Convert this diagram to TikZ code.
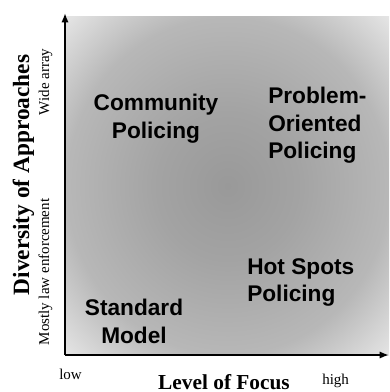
\documentclass[tikz,border=0pt]{standalone}
\usepackage{fontspec}
\setmainfont{Liberation Serif}
\newfontfamily\hsans{Liberation Sans}
\usetikzlibrary{arrows.meta}
\definecolor{shA}{gray}{0.60}
\definecolor{shB}{gray}{0.64}
\definecolor{shC}{gray}{0.72}
\definecolor{shD}{gray}{0.90}
\pgfdeclareradialshading{bgshade}{\pgfpoint{0bp}{0bp}}{color(0bp)=(shA); color(11bp)=(shB); color(25bp)=(shC); color(35.5bp)=(shD); color(50bp)=(shD)}
\begin{document}
\begin{tikzpicture}[x=0.75pt,y=-0.75pt,
  quad/.style={font=\hsans\bfseries\fontsize{17}{20.5}\selectfont, inner sep=0pt},
  axtitle/.style={font=\bfseries\fontsize{17.5}{20}\selectfont, inner sep=0pt},
  axnote/.style={font=\fontsize{11.25}{13}\selectfont, inner sep=0pt},
  axis/.style={line width=1.9pt, -{Latex[length=7pt,width=5.5pt]}}]
\useasboundingbox (0,0) rectangle (389,392);
\path[shading=bgshade] (66,17) rectangle (389,355);
\coordinate (origin) at (65,355);
\coordinate (ytip) at (65,13);
\coordinate (xtip) at (389,355);
\draw[axis] (origin) -- (ytip);
\draw[axis] (origin) -- (xtip);
\node[quad, align=center, anchor=north] (cp) at (156,94) {Community\\Policing};
\node[quad, align=left, anchor=north west] (pop) at (268,87) {Problem-\\Oriented\\Policing};
\node[quad, align=left, anchor=north west] (hsp) at (247,258) {Hot Spots\\Policing};
\node[quad, align=center, anchor=north] (sm) at (134,299) {Standard\\Model};
\node[axtitle, rotate=90, anchor=base] (ytitle) at (29,175) {Diversity of Approaches};
\node[axnote, rotate=90, anchor=base] (wide) at (49,82) {Wide array};
\node[axnote, rotate=90, anchor=base] (mostly) at (49,272) {Mostly law enforcement};
\node[axnote, anchor=base west] (low) at (59,379) {low};
\node[axnote, anchor=base west] (high) at (322,384) {high};
\node[axtitle, font=\bfseries\fontsize{16}{18}\selectfont, anchor=base] (xtitle) at (224,389) {Level of Focus};
\end{tikzpicture}
\end{document}
